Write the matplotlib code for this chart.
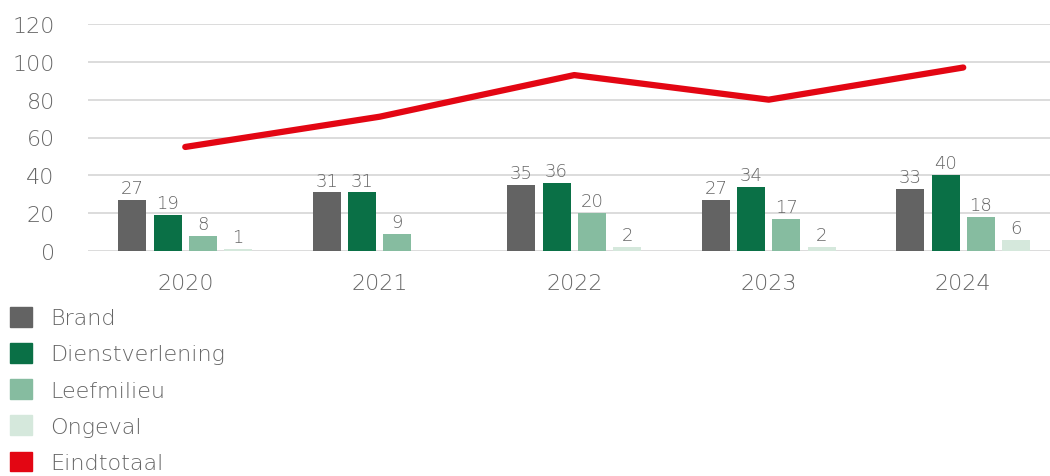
import numpy as np
import matplotlib
matplotlib.use("Agg")
import matplotlib.pyplot as plt
from matplotlib.patches import Patch

plt.rcParams['font.family'] = ['DejaVu Sans']
plt.rcParams['font.weight'] = 'light'

years = ['2020', '2021', '2022', '2023', '2024']
brand = [27, 31, 35, 27, 33]
dienstverlening = [19, 31, 36, 34, 40]
leefmilieu = [8, 9, 20, 17, 18]
ongeval = [1, np.nan, 2, 2, 6]
eindtotaal = [55, 71, 93, 80, 97]

series = [('Brand', brand, '#636363'),
          ('Dienstverlening', dienstverlening, '#0a7046'),
          ('Leefmilieu', leefmilieu, '#86bca0'),
          ('Ongeval', ongeval, '#d5e8dc')]

text_col = '#666666'

fig = plt.figure(figsize=(10.5, 4.77), dpi=100)
ax = fig.add_axes([88/1050, 225/477, 962/1050, 227/477])

x = np.arange(len(years))
step = 0.1815
width = 0.144
for i, (name, vals, col) in enumerate(series):
    pos = x + (i - 1.5) * step
    vals = np.array(vals, dtype=float)
    ax.bar(pos, vals, width, color=col, zorder=2)
    for p, v in zip(pos, vals):
        if np.isnan(v):
            continue
        ax.text(p, v + 1.5, f'{int(v)}', ha='center', va='bottom',
                fontsize=13, color=text_col)

ax.plot(x, eindtotaal, color='#e30613', lw=4.5, solid_capstyle='round', zorder=3)

ax.set_xlim(-0.5, 4.446)
ax.set_ylim(0, 120)
ax.set_yticks(range(0, 121, 20))
ax.set_xticks(x)
ax.set_xticklabels(years)
ax.yaxis.grid(True, color='#d9d9d9', lw=1.3, zorder=0)
ax.set_axisbelow(True)
for s in ax.spines.values():
    s.set_visible(False)
ax.tick_params(axis='both', length=0, labelsize=16, colors=text_col)
ax.tick_params(axis='x', pad=16)
ax.tick_params(axis='y', pad=24)

handles = [Patch(color=c, label=n) for n, _, c in series]
handles.append(Patch(color='#e30613', label='Eindtotaal'))
fig.legend(handles=handles, loc='upper left', bbox_to_anchor=(0.003, (477 - 301) / 477),
           frameon=False, fontsize=16, labelcolor=text_col,
           handlelength=1.0, handleheight=1.0, handletextpad=0.8,
           labelspacing=0.66, borderaxespad=0, borderpad=0.3)

fig.savefig('out.png', dpi=100)
